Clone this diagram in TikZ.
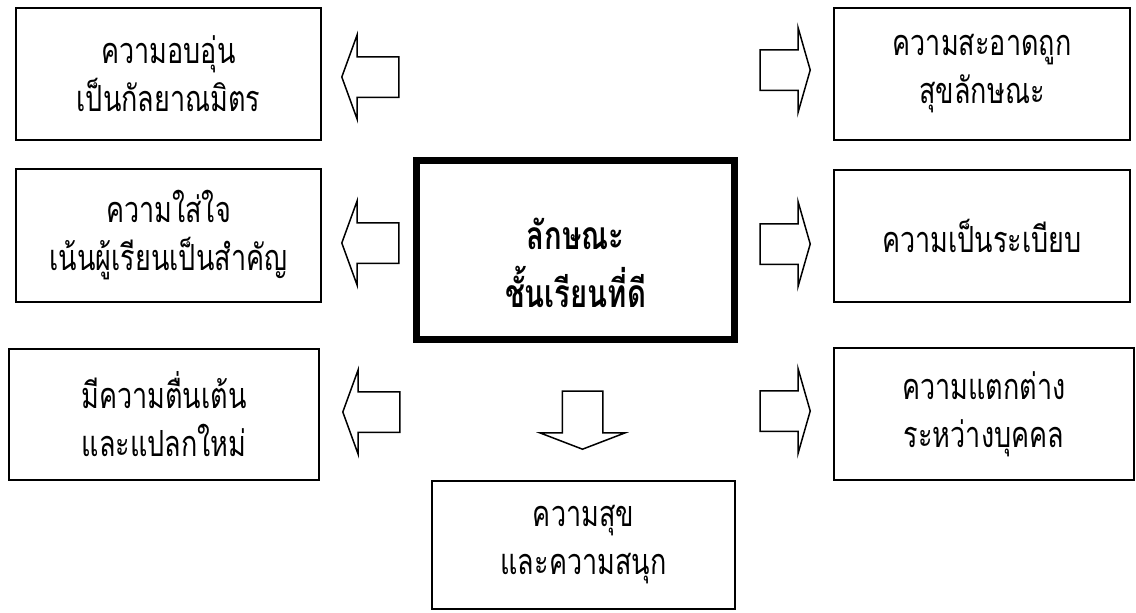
\documentclass[tikz,border=0pt]{standalone}
\usepackage{fontspec}
\newfontfamily\thaifont[Script=Thai, FakeStretch=0.75]{Loma}
\usetikzlibrary{shapes.arrows}
\tikzset{
  x=0.5pt, y=-0.5pt, % one unit is one pixel of the page, y runs down
  box/.style={draw, line width=1pt, inner sep=0pt, align=center,
    font=\thaifont\fontsize{18}{24}\selectfont}, % the eight outer boxes
  corebox/.style={draw, line width=3.5pt, inner sep=0pt}, % the thick box in the middle
  coretext/.style={align=center, yshift=-6.5pt,
    font=\thaifont\bfseries\fontsize{19.5}{29}\selectfont}, % its text sits a bit low
  blockarrow/.style={draw, line width=0.75pt, single arrow, inner xsep=0pt,
    inner ysep=9.75pt, minimum width=41.5pt, single arrow head extend=11pt,
    anchor=tip}, % hollow arrows pointing out of the middle
  leftarrow/.style={blockarrow, rotate=180, minimum height=28.5pt, single arrow tip angle=140},
  rightarrow/.style={blockarrow, minimum height=25pt, single arrow tip angle=148},
  downarrow/.style={blockarrow, rotate=-90, minimum height=29pt, single arrow tip angle=138},
}
\begin{document}
\begin{tikzpicture}
  \useasboundingbox (0,0) rectangle (1136,612);

  \node[corebox, minimum width=159pt, minimum height=89.5pt,
    label={[coretext]center:ลักษณะ\\ชั้นเรียนที่ดี}] (core) at (575.5,250) {};

  \node[box, minimum width=152.5pt, minimum height=66pt]   (warm)   at (168.5,74)  {ความอบอุ่น\\เป็นกัลยาณมิตร};
  \node[box, minimum width=152.5pt, minimum height=66.5pt] (care)   at (168.5,235.5) {ความใส่ใจ\\เน้นผู้เรียนเป็นสำคัญ};
  \node[box, minimum width=155pt, minimum height=65.5pt]   (excite) at (164,414.5) {มีความตื่นเต้น\\และแปลกใหม่};
  \node[box, minimum width=148pt, minimum height=66pt]     (clean)  at (982,74)    {ความสะอาดถูก\\สุขลักษณะ};
  \node[box, minimum width=148pt, minimum height=66pt]     (order)  at (982,236)   {ความเป็นระเบียบ};
  \node[box, minimum width=150pt, minimum height=66pt]     (diff)   at (984,414)   {ความแตกต่าง\\ระหว่างบุคคล};
  \node[box, minimum width=151.5pt, minimum height=64pt]   (happy)  at (583.5,545) {ความสุข\\และความสนุก};

  % arrows, placed by their tips
  \node[leftarrow]  (towarm)   at (341,77)  {};
  \node[leftarrow]  (tocare)   at (341,243) {};
  \node[leftarrow]  (toexcite) at (342,412) {};
  \node[rightarrow] (toclean)  at (811,70)  {};
  \node[rightarrow] (toorder)  at (811,244) {};
  \node[rightarrow] (todiff)   at (811,411) {};
  \node[downarrow]  (tohappy)  at (582.5,450) {};
\end{tikzpicture}
\end{document}
